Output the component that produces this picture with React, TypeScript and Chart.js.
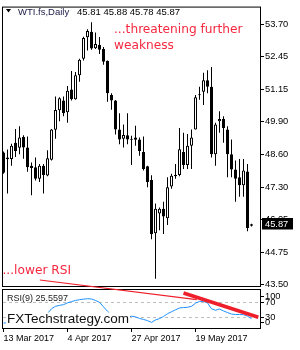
import { useEffect, useRef } from 'react';
import { Chart, registerables } from 'chart.js';

Chart.register(...registerables);

// ---- data (WTI.fs, Daily) ----
const opens = [48.68, 48.41, 48.42, 49.06, 48.86, 49.28, 48.87, 48.16, 48.10, 47.65,
  48.16, 47.78, 48.39, 49.57, 50.33, 50.71, 50.25, 51.15, 50.76, 51.70,
  52.35, 53.19, 53.41, 52.76, 52.89, 52.73, 52.27, 50.93, 50.71, 49.58,
  49.22, 49.35, 49.22, 49.26, 49.19, 48.70, 48.14, 47.60, 45.51, 46.29,
  46.47, 46.10, 47.34, 47.75, 47.80, 48.70, 48.19, 48.94, 49.58, 50.92,
  51.06, 51.51, 51.25, 48.61, 49.90, 49.99, 49.58, 48.61, 48.01, 47.71,
  47.39, 47.93, 45.81];
const highs = [48.72, 48.79, 49.02, 49.60, 49.71, 49.35, 49.30, 48.29, 48.48, 48.23,
  48.23, 48.77, 49.60, 50.87, 50.84, 50.87, 51.28, 51.87, 51.83, 52.35,
  53.21, 53.51, 53.78, 53.38, 53.20, 52.81, 52.28, 51.00, 50.73, 50.22,
  49.77, 50.22, 49.33, 49.73, 49.26, 49.30, 48.16, 47.79, 46.68, 46.52,
  46.75, 47.71, 47.84, 48.23, 49.64, 49.45, 49.40, 49.58, 50.93, 51.25,
  51.80, 51.90, 52.03, 49.84, 50.29, 50.10, 49.71, 49.19, 48.36, 48.42,
  48.42, 48.23, 45.88];
const lows = [47.84, 47.07, 48.16, 48.50, 48.61, 48.43, 47.92, 47.00, 47.58, 47.52,
  47.07, 47.75, 48.36, 49.22, 49.90, 50.10, 49.84, 50.71, 50.74, 51.45,
  52.28, 52.67, 52.70, 52.73, 52.54, 52.12, 50.67, 50.35, 49.38, 49.00,
  48.87, 49.00, 48.19, 48.94, 48.55, 47.97, 47.32, 45.28, 43.73, 45.63,
  45.48, 45.84, 47.26, 47.65, 47.75, 48.03, 48.03, 48.03, 49.58, 50.74,
  50.54, 51.00, 48.48, 48.16, 49.45, 49.06, 47.71, 47.71, 46.75, 46.94,
  46.94, 45.59, 45.78];
const closes = [47.88, 48.48, 48.94, 48.74, 49.26, 48.87, 48.10, 48.07, 47.65, 48.16,
  47.80, 48.45, 49.58, 50.34, 50.80, 50.22, 51.10, 50.76, 51.70, 52.31,
  53.16, 53.44, 52.75, 52.93, 52.70, 52.23, 51.00, 50.71, 49.58, 49.19,
  49.36, 49.19, 49.18, 49.18, 48.74, 48.03, 47.52, 45.47, 46.47, 46.47,
  46.17, 47.32, 47.77, 47.80, 48.80, 48.19, 48.94, 49.26, 50.84, 50.96,
  51.51, 51.25, 48.61, 49.77, 49.99, 49.64, 48.61, 48.01, 47.65, 47.39,
  47.97, 45.72, 45.87];
const rsi9 = [13.5, 14.3, 29.7, 27, 35, 31, 23, 21.6, 17.6, 27,
  30, 40, 52.7, 59.5, 62.2, 64, 69, 72.4, 75.7, 77.6,
  79.2, 80.3, 79.7, 75.7, 70.3, 58.1, 46, 35.1, 29.7, 29,
  29.7, 29, 32.4, 30.5, 26.2, 23.5, 20.3, 15.4, 22.2, 25.7,
  31.6, 39.2, 44.6, 50, 54.9, 56.2, 56.8, 59.5, 68.1, 73,
  73, 68.9, 52.7, 48.6, 52.2, 46.8, 42.4, 38.4, 37, 37,
  36.5, 32.4, 25.5597];
const priceTicks = [53.7, 52.45, 51.15, 49.9, 48.6, 47.3, 46.05, 44.75, 43.5];
const rsiLevels = [70, 30];
const rsiTicks = [100, 70, 30, 0];
const dateTickBars = [0, 16, 32, 48];
const dateTickLabels = ['13 Mar 2017', '4 Apr 2017', '27 Apr 2017', '19 May 2017'];
const priceTrendBars = [9.1, 48.3];
const priceTrendValues = [43.68, 42.91];
const rsiTrendBars = [45, 63.7];
const rsiTrendValues = [96, 29.7];
const symbolName = 'WTI.fs,Daily';
const noteTop = ['...threatening further', 'weakness'];
const noteBottom = '...lower RSI';
const watermark = 'FXTechstrategy.com';

// ---- layout constants ----
const MAIN_BOTTOM = 286.5;
const RSI_TOP = 289.5;
const RED_TEXT = '#f5283f';
const RED_LINE = '#ee1f2b';
const AXIS_FONT = '"Liberation Sans", Arial, sans-serif';
const NOTE_FONT = '"DejaVu Sans", Verdana, sans-serif';

const overlayPlugin = {
  id: 'overlay',
  beforeDatasetsDraw(chart: any) {
    const { ctx, chartArea } = chart;
    const r = chart.scales.yRsi;
    ctx.save();
    ctx.strokeStyle = '#bdbdbd';
    ctx.lineWidth = 1;
    ctx.setLineDash([3, 3]);
    for (const v of rsiLevels) {
      const yy = Math.round(r.getPixelForValue(v)) + 0.5;
      ctx.beginPath();
      ctx.moveTo(chartArea.left + 1, yy);
      ctx.lineTo(chartArea.right - 1, yy);
      ctx.stroke();
    }
    ctx.restore();
  },
  afterDatasetsDraw(chart: any) {
    const { ctx, chartArea } = chart;
    const xs = chart.scales.x;
    const ys = chart.scales.y;
    const rs = chart.scales.yRsi;
    const L = chartArea.left + 0.5;
    const R = chartArea.right - 0.5;
    const T = chartArea.top + 0.5;
    const B = chartArea.bottom - 0.5;
    ctx.save();
    ctx.setLineDash([]);

    // watermark with white backing
    ctx.font = `13.5px ${AXIS_FONT}`;
    ctx.textBaseline = 'alphabetic';
    ctx.textAlign = 'left';
    const wm = ctx.measureText(watermark);
    const wmX = 7, wmY = 322.5;
    ctx.fillStyle = '#fff';
    ctx.fillRect(wmX - 1, wmY - wm.actualBoundingBoxAscent - 1, wm.width + 2,
      wm.actualBoundingBoxAscent + wm.actualBoundingBoxDescent + 2);
    ctx.fillStyle = '#111';
    ctx.fillText(watermark, wmX, wmY);

    // panel borders
    ctx.strokeStyle = '#000';
    ctx.lineWidth = 1;
    ctx.strokeRect(L, T, R - L, MAIN_BOTTOM - T);
    ctx.strokeRect(L, RSI_TOP, R - L, B - RSI_TOP);

    // RSI label
    ctx.font = `9px ${AXIS_FONT}`;
    ctx.fillStyle = '#222';
    ctx.fillText('RSI(9) ' + rsi9[rsi9.length - 1].toFixed(4), 7, 301);

    // title
    ctx.fillStyle = '#000';
    ctx.beginPath();
    ctx.moveTo(6, 9); ctx.lineTo(11, 9); ctx.lineTo(8.5, 12.5); ctx.closePath();
    ctx.fill();
    ctx.font = `9.5px ${AXIS_FONT}`;
    ctx.fillStyle = '#1a1a46';
    ctx.fillText(symbolName, 18, 14.5);
    const n = closes.length - 1;
    ctx.fillStyle = '#000';
    ctx.fillText([opens[n], highs[n], lows[n], closes[n]].map((v) => v.toFixed(2)).join(' '), 77, 14.5);

    // notes
    ctx.font = `12.2px ${NOTE_FONT}`;
    ctx.fillStyle = RED_TEXT;
    ctx.fillText(noteTop[0], 114, 32.5);
    ctx.fillText(noteTop[1], 114, 49);
    ctx.fillText(noteBottom, 2.5, 274.3);

    // trend lines
    ctx.strokeStyle = RED_LINE;
    ctx.lineWidth = 1.1;
    ctx.beginPath();
    ctx.moveTo(xs.getPixelForValue(priceTrendBars[0]), ys.getPixelForValue(priceTrendValues[0]));
    ctx.lineTo(xs.getPixelForValue(priceTrendBars[1]), ys.getPixelForValue(priceTrendValues[1]));
    ctx.stroke();
    ctx.lineWidth = 3.6;
    ctx.beginPath();
    ctx.moveTo(xs.getPixelForValue(rsiTrendBars[0]), rs.getPixelForValue(rsiTrendValues[0]));
    ctx.lineTo(xs.getPixelForValue(rsiTrendBars[1]), rs.getPixelForValue(rsiTrendValues[1]));
    ctx.stroke();

    // RSI axis labels
    ctx.font = `9.3px ${AXIS_FONT}`;
    ctx.textBaseline = 'middle';
    ctx.strokeStyle = '#000';
    ctx.lineWidth = 1;
    for (const v of rsiTicks) {
      let yy = rs.getPixelForValue(v);
      yy = Math.max(RSI_TOP + 6.5, Math.min(B - 6.5, yy));
      ctx.fillStyle = '#000';
      ctx.fillText(String(v), 265, yy);
      ctx.beginPath();
      ctx.moveTo(chartArea.right, Math.round(yy) + 0.5);
      ctx.lineTo(chartArea.right + 3, Math.round(yy) + 0.5);
      ctx.stroke();
    }

    // last price box
    const yc = Math.round(ys.getPixelForValue(closes[n]));
    ctx.fillStyle = '#000';
    ctx.fillRect(chartArea.right + 1, yc - 6, 31, 11.5);
    ctx.fillStyle = '#fff';
    ctx.fillText(closes[n].toFixed(2), 265, yc);
    ctx.restore();
  },
};

export default function App() {
  const ref = useRef<HTMLCanvasElement | null>(null);
  useEffect(() => {
    if (!ref.current) return;
    const idx = closes.map((_, i) => i);
    const chart = new Chart(ref.current, {
      type: 'bar',
      data: {
        datasets: [
          {
            type: 'bar',
            label: 'wick',
            data: idx.map((i) => ({ x: i, y: [lows[i], highs[i]] })) as any,
            backgroundColor: '#000',
            borderWidth: 0,
            barThickness: 1,
            grouped: false,
            inflateAmount: 0,
            order: 3,
            xAxisID: 'x',
            yAxisID: 'y',
          } as any,
          {
            type: 'bar',
            label: 'body',
            data: idx.map((i) => ({ x: i, y: [opens[i], closes[i]] })) as any,
            backgroundColor: idx.map((i) => (closes[i] >= opens[i] ? '#fff' : '#000')),
            borderColor: '#000',
            borderWidth: 1,
            borderSkipped: false,
            barThickness: 3,
            minBarLength: 1,
            grouped: false,
            inflateAmount: 0,
            order: 2,
            xAxisID: 'x',
            yAxisID: 'y',
          } as any,
          {
            type: 'line',
            label: 'RSI(9)',
            data: idx.map((i) => ({ x: i, y: rsi9[i] })) as any,
            borderColor: '#1e90ff',
            borderWidth: 1,
            pointRadius: 0,
            tension: 0,
            order: 1,
            xAxisID: 'x',
            yAxisID: 'yRsi',
          } as any,
        ],
      },
      options: {
        animation: false,
        responsive: false,
        devicePixelRatio: 1,
        layout: { padding: { left: 2, top: 2, right: 0, bottom: 0 } },
        plugins: { legend: { display: false }, tooltip: { enabled: false } },
        scales: {
          x: {
            type: 'linear',
            axis: 'x',
            position: 'bottom',
            offset: false,
            min: -0.375,
            max: 64.375,
            border: { display: false },
            grid: { offset: false, drawOnChartArea: false, drawTicks: true, tickLength: 3, color: '#000' },
            ticks: {
              autoSkip: false,
              maxRotation: 0,
              align: 'start',
              padding: 1,
              color: '#000',
              font: { family: AXIS_FONT, size: 9 },
              callback: (v: any) => dateTickLabels[dateTickBars.indexOf(Number(v))] ?? '',
            },
            afterBuildTicks: (s: any) => { s.ticks = dateTickBars.map((v) => ({ value: v })); },
            afterFit: (s: any) => { s.height = 21; },
          },
          y: {
            type: 'linear',
            axis: 'y',
            position: 'right',
            min: 41.7602,
            max: 54.3955,
            beginAtZero: false,
            border: { display: false },
            grid: { drawOnChartArea: false, drawTicks: true, tickLength: 3, color: '#000' },
            ticks: {
              autoSkip: false,
              padding: 1,
              color: '#000',
              font: { family: AXIS_FONT, size: 9.3 },
              callback: (v: any) => Number(v).toFixed(2),
            },
            afterBuildTicks: (s: any) => { s.ticks = priceTicks.map((v) => ({ value: v })); },
            afterFit: (s: any) => { s.width = 39; },
          },
          yRsi: {
            type: 'linear',
            axis: 'y',
            position: 'right',
            display: false,
            beginAtZero: false,
            min: -2.7,
            max: 881.1,
          },
        },
      } as any,
      plugins: [overlayPlugin],
    });
    return () => chart.destroy();
  }, []);
  return (
    <div style={{ position: 'absolute', left: 0, top: 0, width: 300, height: 350, background: '#fff' }}>
      <canvas ref={ref} width={300} height={350} style={{ display: 'block' }} />
    </div>
  );
}
